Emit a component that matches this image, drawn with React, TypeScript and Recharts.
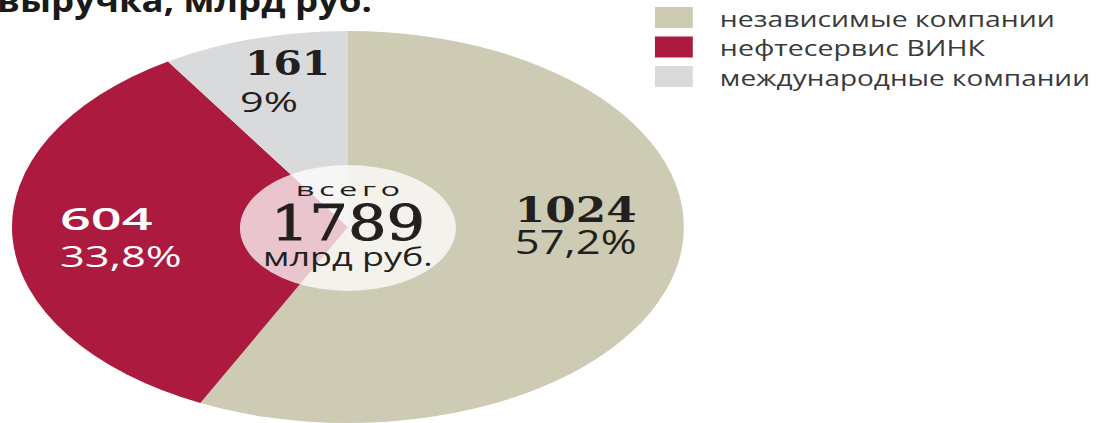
import React from "react";
import { PieChart, Pie, Cell, Legend } from "recharts";

const names = ["независимые компании", "нефтесервис ВИНК", "международные компании"];
const values = [1024, 604, 161];
const shares = ["57,2%", "33,8%", "9%"];
const colors = ["#cdcbb3", "#ad1a3f", "#d9dadc"];
const centerWords = ["всего", "млрд руб."];
const title = "выручка, млрд руб.";

const total = values.reduce((a, b) => a + b, 0);
const data = names.map((name, i) => ({ name, value: values[i] }));
const centerData = [{ name: "всего", value: total }];

// the reference is stretched horizontally, so the whole chart is drawn narrow and scaled
const S = 1.714;
const W = Math.round(1108 / S);
const H = 423;
const CX = 203;
const CY = 227;

const SERIF = "'DejaVu Serif', serif";
const SANS = "'Open Sans', 'DejaVu Sans', sans-serif";

// label blocks per slice: offset of the text block from the pie centre (unscaled px)
const labelLayout = [
  { dx: 97.4, dx2: 97.4, dy1: -5, dy2: 27, w1: 71, w2: 71, f1: 35, f2: 32, fill: "#231f20", bold: true, serif: true },
  { dx: -168, dx2: -168, dy1: 3, dy2: 40, w1: 54, w2: 71, f1: 31, f2: 30, fill: "#ffffff", bold: false, serif: false },
  { dx: -60, dx2: -63, dy1: -152, dy2: -115, w1: 49.6, w2: 33.8, f1: 33, f2: 27, fill: "#231f20", bold: true, serif: true },
];

const legendWidths = [195.4, 154.6, 215.9];

const renderSliceLabel = (props: any) => {
  const { cx, cy, index } = props;
  const l = labelLayout[index];
  return (
    <g key={`lbl-${index}`}>
      <text
        x={cx + l.dx}
        y={cy + l.dy1}
        fill={l.fill}
        fontFamily={l.serif ? SERIF : SANS}
        fontWeight={l.bold ? 700 : 600}
        fontSize={l.f1}
        textLength={l.w1}
        lengthAdjust="spacingAndGlyphs"
        textAnchor="start"
      >
        {values[index]}
      </text>
      <text
        x={cx + l.dx2}
        y={cy + l.dy2}
        fill={l.fill}
        fontFamily={SANS}
        fontSize={l.f2}
        textLength={l.w2}
        lengthAdjust="spacingAndGlyphs"
        textAnchor="start"
      >
        {shares[index]}
      </text>
    </g>
  );
};

const renderCenterLabel = (props: any) => {
  const { cx, cy } = props;
  return (
    <g key="center-lbl">
      <text x={cx} y={cy - 32} textAnchor="middle" fill="#231f20" fontFamily={SANS} fontSize={19}
        textLength={61} lengthAdjust="spacing">
        {centerWords[0]}
      </text>
      <text x={cx} y={cy + 12} textAnchor="middle" fill="#231f20" fontFamily={SERIF} fontSize={48}
        stroke="#231f20" strokeWidth={0.9}
        textLength={90} lengthAdjust="spacingAndGlyphs">
        {total}
      </text>
      <text x={cx} y={cy + 38} textAnchor="middle" fill="#231f20" fontFamily={SANS} fontSize={25}
        textLength={99} lengthAdjust="spacingAndGlyphs">
        {centerWords[1]}
      </text>
    </g>
  );
};

// legend drawn in the series order of the reference
const renderLegend = () => (
  <svg width={300} height={92} style={{ display: "block" }}>
    {names.map((name, i) => {
      const y = i * 29.5;
      return (
        <g key={name}>
          <rect x={0} y={y} width={22.2} height={21} fill={colors[i]} />
          <text x={38} y={y + 20} fill="#3a3a3a" fontFamily={SANS} fontSize={22}
            textLength={legendWidths[i]} lengthAdjust="spacingAndGlyphs">
            {name}
          </text>
        </g>
      );
    })}
  </svg>
);

export default function App() {
  return (
    <div style={{ position: "absolute", left: 0, top: 0, width: 1108, height: 423, overflow: "hidden", background: "#fff" }}>
      <div style={{ position: "absolute", left: 0, top: 0, width: W, height: H, transform: `scaleX(${S})`, transformOrigin: "0 0" }}>
        <PieChart width={W} height={H} margin={{ top: 0, right: 0, bottom: 0, left: 0 }}>
          <Pie
            data={data}
            dataKey="value"
            nameKey="name"
            cx={CX}
            cy={CY}
            outerRadius={196}
            startAngle={90}
            endAngle={-270}
            stroke="none"
            label={renderSliceLabel}
            labelLine={false}
            isAnimationActive={false}
          >
            {data.map((d, i) => (
              <Cell key={d.name} fill={colors[i]} />
            ))}
          </Pie>
          <Pie
            data={centerData}
            dataKey="value"
            nameKey="name"
            cx={CX}
            cy={CY + 1}
            outerRadius={63}
            startAngle={90}
            endAngle={-270}
            stroke="none"
            fill="#ffffff"
            fillOpacity={0.75}
            legendType="none"
            label={renderCenterLabel}
            labelLine={false}
            isAnimationActive={false}
          />
          <Legend
            layout="vertical"
            align="right"
            verticalAlign="top"
            content={renderLegend}
            wrapperStyle={{ left: 382, top: 7, right: "auto", width: 300 }}
          />
        </PieChart>
      </div>
      <svg width={420} height={30} style={{ position: "absolute", left: 0, top: 0 }}>
        <text x={-3} y={12} fill="#1a1a1a" fontFamily={SANS} fontWeight={700} fontSize={32}
          textLength={375} lengthAdjust="spacingAndGlyphs">
          {title}
        </text>
      </svg>
    </div>
  );
}
